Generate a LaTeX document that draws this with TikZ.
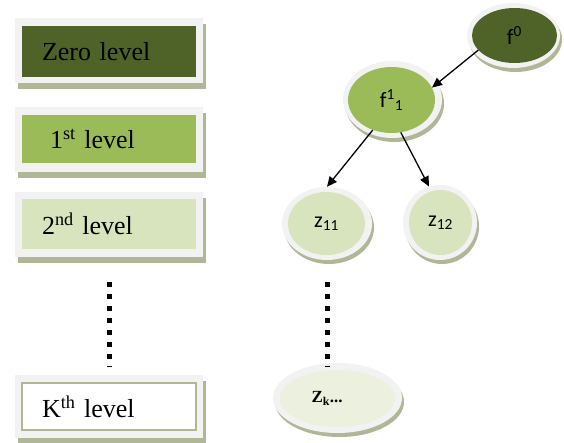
\documentclass[tikz,border=0pt]{standalone}
\usepackage{fontspec}
\setmainfont{Liberation Serif}
\newfontfamily\calibfont{Carlito}
\usetikzlibrary{shapes.geometric,shadows,arrows.meta}
\definecolor{darkolive}{HTML}{4F6228}
\definecolor{midolive}{HTML}{9BBB59}
\definecolor{paleolive}{HTML}{D7E4BD}
\definecolor{mistolive}{HTML}{EBF1DE}
\definecolor{framegray}{HTML}{F2F2F2}
\definecolor{shadeolive}{RGB}{176,183,150}
\begin{document}
\begin{tikzpicture}[x=1pt,y=-1pt,
	boxframe/.style={rectangle, fill=framegray, minimum width=188pt, inner sep=0pt, drop shadow={shadow xshift=3pt, shadow yshift=-6pt, fill=shadeolive, opacity=1}},
	levelbox/.style={rectangle, inner ysep=0pt, inner xsep=20pt, text width=134pt, align=left, font=\fontsize{26}{30}\selectfont},
	blobframe/.style={ellipse, fill=framegray, inner sep=0pt, drop shadow={shadow xshift=2pt, shadow yshift=-4pt, fill=shadeolive, opacity=1}},
	blob/.style={ellipse, inner sep=0pt, font=\calibfont\fontsize{22}{26}\selectfont},
	treearrow/.style={line width=1.3pt, -{Triangle[length=10pt,width=9pt]}},
	dotline/.style={line width=5pt, dash pattern=on 5pt off 7pt}]
			\useasboundingbox (0,0) rectangle (564,443);

			\node[boxframe, minimum height=65pt](zeroFrame) at (109,50.5){};
			\node[boxframe, minimum height=65pt](firstFrame) at (109,139.5){};
			\node[boxframe, minimum height=65pt](secondFrame) at (109,224.5){};
			\node[boxframe, minimum height=63pt](kthFrame) at (109,406.5){};

			\node[levelbox, fill=darkolive, minimum height=51pt](zeroBox) at (109,51.5){Zero level};
			\node[levelbox, fill=midolive, minimum height=48pt, inner xsep=28pt, text width=118pt](firstBox) at (109,139){1\textsuperscript{st} level};
			\node[levelbox, fill=paleolive, minimum height=50pt](secondBox) at (109,224){2\textsuperscript{nd} level};
			\node[levelbox, fill=white, draw=shadeolive, line width=1.5pt, minimum height=47pt](kthBox) at (109,406.5){K\textsuperscript{th} level};

			\node[blobframe, minimum width=93pt, minimum height=65pt](f0Frame) at (513.5,35.5){};
			\node[blobframe, minimum width=99pt, minimum height=77pt](f1Frame) at (392.5,99.5){};
			\node[blobframe, minimum width=90pt, minimum height=73pt](z11Frame) at (327,223.5){};
			\node[blobframe, minimum width=74pt, minimum height=75pt](z12Frame) at (440,222.5){};
			\node[blobframe, minimum width=129pt, minimum height=70pt](zkFrame) at (337.5,398){};

			\node[blob, fill=darkolive, minimum width=85pt, minimum height=55pt](f0) at (514.5,35.5){f\textsuperscript{0}};
			\node[blob, fill=midolive, minimum width=87pt, minimum height=66pt](f1) at (391.5,100){f\textsuperscript{1}\textsubscript{1}};
			\node[blob, fill=paleolive, minimum width=77pt, minimum height=63pt](z11) at (326.5,223.5){z\textsubscript{11}};
			\node[blob, fill=paleolive, minimum width=63pt, minimum height=65pt](z12) at (440.5,222.5){z\textsubscript{12}};
			\node[blob, fill=mistolive, minimum width=115pt, minimum height=57pt, text width=52pt, align=left, font=\fontsize{17}{20}\selectfont\bfseries](zk) at (337.5,398.5){Z\textsubscript{k}...};

			\draw[treearrow] (f0.202) -- (f1.17);
			\draw[treearrow] (f1.238) -- (z11Frame.north);
			\draw[treearrow] (f1.286) -- (z12Frame.107);

			\draw[dotline, shorten <=25pt, shorten >=8pt] (secondFrame.south) -- (kthFrame.north);
			\draw[dotline, shorten <=21.5pt, shorten >=-3.5pt] (z11Frame.south) -- (z11Frame.south |- zkFrame.north);
		\end{tikzpicture}
\end{document}
